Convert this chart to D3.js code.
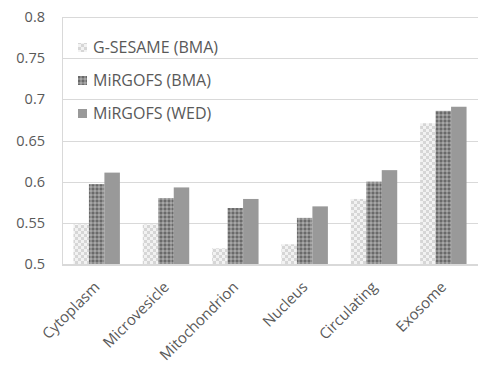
<!DOCTYPE html>
<html>
<head>
<meta charset="utf-8">
<script src="https://cdn.jsdelivr.net/npm/d3@7"></script>
<style>
  body { margin: 0; background: #fff; }
  text { font-family: "Open Sans", "Noto Sans", sans-serif; fill: #595959; }
</style>
</head>
<body>
<script>
/* data */
var categories = ["Cytoplasm", "Microvesicle", "Mitochondrion", "Nucleus", "Circulating", "Exosome"];
var seriesNames = ["G-SESAME (BMA)", "MiRGOFS (BMA)", "MiRGOFS (WED)"];
var gsesame = [0.548, 0.548, 0.519, 0.524, 0.579, 0.671];
var mirgofsBma = [0.597, 0.580, 0.568, 0.556, 0.600, 0.686];
var mirgofsWed = [0.611, 0.593, 0.579, 0.570, 0.614, 0.691];
var yTicks = [0.5, 0.55, 0.6, 0.65, 0.7, 0.75, 0.8];

var W = 478, H = 370;
var mLeft = 62, mRight = 478, mTop = 17, mBottom = 264;

var svg = d3.select("body").append("svg")
    .attr("width", W)
    .attr("height", H);

var defs = svg.append("defs");

// light checkerboard
var p1 = defs.append("pattern").attr("id", "pLight")
    .attr("width", 6).attr("height", 6).attr("patternUnits", "userSpaceOnUse");
p1.append("rect").attr("width", 6).attr("height", 6).attr("fill", "#f2f2f2");
p1.append("rect").attr("width", 3).attr("height", 3).attr("fill", "#d6d6d6");
p1.append("rect").attr("x", 3).attr("y", 3).attr("width", 3).attr("height", 3).attr("fill", "#d6d6d6");

// dark dotted checker
var p2 = defs.append("pattern").attr("id", "pDark")
    .attr("width", 4).attr("height", 4).attr("patternUnits", "userSpaceOnUse");
p2.append("rect").attr("width", 4).attr("height", 4).attr("fill", "#8c8c8c");
p2.append("rect").attr("width", 2).attr("height", 2).attr("fill", "#6a6a6a");
p2.append("rect").attr("x", 2).attr("y", 2).attr("width", 2).attr("height", 2).attr("fill", "#a6a6a6");

var fills = ["url(#pLight)", "url(#pDark)", "#999999"];
var series = [gsesame, mirgofsBma, mirgofsWed];

var x = d3.scaleBand().domain(categories).range([mLeft, mRight]).paddingInner(0).paddingOuter(0);
var xs = d3.scaleBand().domain(d3.range(3)).range([0, x.bandwidth() * 0.67]);
var y = d3.scaleLinear().domain([0.5, 0.8]).range([mBottom, mTop]);

// gridlines
svg.append("g").selectAll("line")
    .data(yTicks.slice(1))
    .join("line")
    .attr("x1", mLeft).attr("x2", mRight)
    .attr("y1", d => Math.round(y(d)) + 0.5).attr("y2", d => Math.round(y(d)) + 0.5)
    .attr("stroke", "#d9d9d9").attr("stroke-width", 1);

// y labels
svg.append("g").selectAll("text")
    .data(yTicks)
    .join("text")
    .attr("x", 45)
    .attr("y", d => y(d) + 5)
    .attr("text-anchor", "end")
    .attr("font-size", 14.5)
    .text(d => String(+d.toFixed(2)));

// bars
var off = (x.bandwidth() - x.bandwidth() * 0.67) / 2;
series.forEach(function(vals, si) {
  svg.append("g").selectAll("rect")
      .data(vals)
      .join("rect")
      .attr("x", (d, i) => x(categories[i]) + off + xs(si))
      .attr("y", d => y(d))
      .attr("width", xs.bandwidth())
      .attr("height", d => y(0.5) - y(d))
      .attr("fill", fills[si]);
});

// axis lines
svg.append("line").attr("x1", mLeft + 0.5).attr("x2", mLeft + 0.5)
    .attr("y1", mTop).attr("y2", mBottom).attr("stroke", "#d9d9d9");
svg.append("line").attr("x1", mLeft).attr("x2", mRight)
    .attr("y1", mBottom + 1).attr("y2", mBottom + 1).attr("stroke", "#d9d9d9").attr("stroke-width", 2);

// x labels
svg.append("g").selectAll("text")
    .data(categories)
    .join("text")
    .attr("text-anchor", "end")
    .attr("font-size", 15)
    .attr("transform", d => "translate(" + (x(d) + x.bandwidth() / 2 + 4) + "," + 288 + ") rotate(-45)")
    .text(d => d);

// legend
var leg = svg.append("g").attr("transform", "translate(78,47)");
seriesNames.forEach(function(name, i) {
  var g = leg.append("g").attr("transform", "translate(0," + i * 33 + ")");
  g.append("rect").attr("x", 0).attr("y", -4).attr("width", 9).attr("height", 9).attr("fill", fills[i]);
  g.append("text").attr("x", 15).attr("y", 5.5).attr("font-size", 16).text(name);
});
</script>
</body>
</html>
